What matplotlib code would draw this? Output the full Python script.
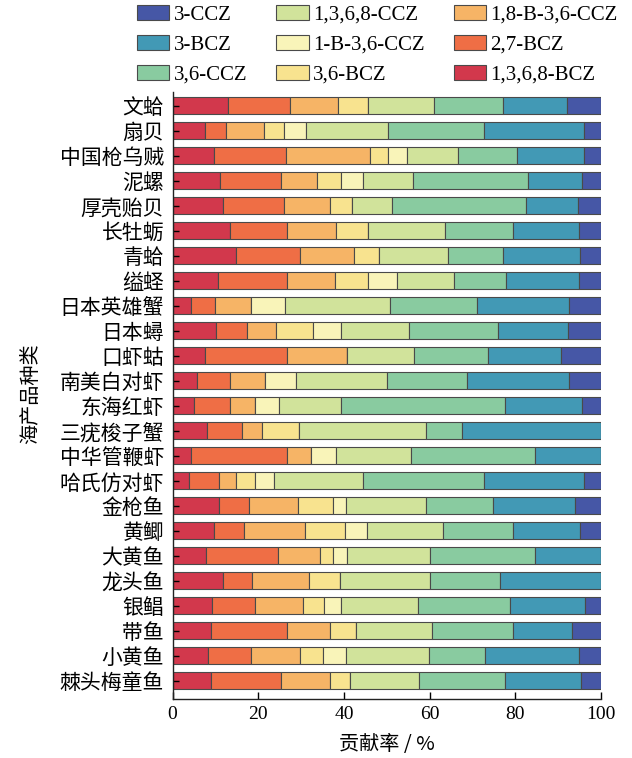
import matplotlib
matplotlib.use("Agg")
import matplotlib.pyplot as plt
import numpy as np

categories = ["文蛤", "扇贝", "中国枪乌贼", "泥螺", "厚壳贻贝", "长牡蛎", "青蛤", "缢蛏",
              "日本英雄蟹", "日本蟳", "口虾蛄", "南美白对虾", "东海红虾", "三疣梭子蟹",
              "中华管鞭虾", "哈氏仿对虾", "金枪鱼", "黄鲫", "大黄鱼", "龙头鱼", "银鲳",
              "带鱼", "小黄鱼", "棘头梅童鱼"]

series_names = ["1,3,6,8-BCZ", "2,7-BCZ", "1,8-B-3,6-CCZ", "3,6-BCZ", "1-B-3,6-CCZ",
                "1,3,6,8-CCZ", "3,6-CCZ", "3-BCZ", "3-CCZ"]

bcz_1368 = [13.0, 7.5, 9.6, 11.0, 11.8, 13.4, 14.7, 10.6, 4.4, 10.1, 7.6, 5.8, 5.1, 8.1,
            4.2, 3.9, 10.9, 9.6, 7.8, 11.7, 9.2, 8.9, 8.3, 9.0]
bcz_27 = [14.4, 4.9, 16.8, 14.4, 14.2, 13.2, 15.1, 16.2, 5.5, 7.2, 19.2, 7.6, 8.3, 8.1,
          22.4, 7.0, 7.0, 7.0, 16.7, 6.9, 10.0, 17.9, 10.1, 16.4]
b18_ccz36 = [11.1, 9.0, 19.6, 8.2, 10.8, 11.6, 12.5, 11.0, 8.5, 6.9, 13.8, 8.1, 5.9, 4.7,
             5.6, 4.0, 11.4, 14.4, 9.8, 13.3, 11.3, 9.9, 11.3, 11.4]
bcz_36 = [7.0, 4.6, 4.3, 5.6, 5.0, 7.4, 6.0, 7.7, 0.0, 8.6, 0.0, 0.0, 0.0, 8.6,
          0.0, 4.4, 8.2, 9.3, 3.2, 7.1, 4.9, 6.2, 5.5, 4.5]
b1_ccz36 = [0.0, 5.1, 4.4, 5.2, 0.0, 0.0, 0.0, 7.0, 7.9, 6.4, 0.0, 7.3, 5.5, 0.0,
            5.9, 4.3, 2.9, 5.1, 3.3, 0.0, 4.0, 0.0, 5.2, 0.0]
ccz_1368 = [15.5, 19.2, 12.0, 11.7, 9.5, 18.0, 16.0, 13.3, 24.4, 16.0, 15.7, 21.2, 14.4, 29.7,
            17.5, 20.8, 18.8, 17.8, 19.2, 21.1, 17.9, 17.7, 19.4, 16.2]
ccz_36 = [16.2, 22.4, 13.6, 26.8, 31.3, 15.8, 12.9, 12.1, 20.3, 20.7, 17.3, 18.8, 38.3, 8.4,
          29.1, 28.4, 15.5, 16.2, 24.6, 16.4, 21.5, 18.8, 13.2, 20.2]
bcz_3 = [14.9, 23.4, 15.7, 12.6, 12.1, 15.4, 17.8, 16.9, 21.5, 16.5, 17.1, 23.8, 18.1, 32.4,
         15.3, 23.2, 19.3, 15.8, 15.4, 23.5, 17.5, 13.8, 21.8, 17.7]
ccz_3 = [7.9, 3.9, 4.0, 4.5, 5.3, 5.2, 5.0, 5.2, 7.5, 7.6, 9.3, 7.4, 4.4, 0.0,
         0.0, 4.0, 6.0, 4.8, 0.0, 0.0, 3.7, 6.8, 5.2, 4.6]

colors = ["#d2384c", "#ef6e45", "#f6b466", "#f8e38f", "#f9f4b9",
          "#d1e39b", "#89cba0", "#4299b5", "#4657a6"]

data = [bcz_1368, bcz_27, b18_ccz36, bcz_36, b1_ccz36, ccz_1368, ccz_36, bcz_3, ccz_3]

plt.rcParams["font.family"] = ["Liberation Serif", "Noto Sans CJK SC", "DejaVu Sans"]
cjk = ["Noto Sans CJK SC", "DejaVu Sans"]

fig = plt.figure(figsize=(6.32, 7.58), dpi=100)
ax = fig.add_axes([0.273, 0.078, 0.678, 0.801])

y = np.arange(len(categories))
left = np.zeros(len(categories))
handles = []
for name, vals, c in zip(series_names, data, colors):
    v = np.array(vals)
    h = ax.barh(y, v, left=left, height=0.68, color=c, edgecolor="#4a4a4a",
                linewidth=0.8, label=name)
    handles.append(h)
    left += v

ax.set_xlim(0, 100)
ax.set_ylim(len(categories) - 0.28, -0.56)
ax.set_yticks(y)
ax.set_yticklabels(categories, fontsize=15, family=cjk)
ax.set_xticks([0, 20, 40, 60, 80, 100])
ax.tick_params(axis="x", direction="in", labelsize=14, length=5, width=1, pad=5)
ax.tick_params(axis="y", direction="in", length=4, width=1, pad=6)
for s in ["top", "right"]:
    ax.spines[s].set_visible(False)
for s in ["left", "bottom"]:
    ax.spines[s].set_linewidth(1.0)
    ax.spines[s].set_color("#222222")

ax.set_xlabel("贡献率 / %", fontsize=14.5, family=cjk, labelpad=8)
fig.text(0.048, 0.48, "海产品种类", rotation=90, fontsize=14.5, ha="center", va="center",
         family=cjk)

leg = fig.legend(handles[::-1], series_names[::-1], ncol=3, frameon=False,
                 loc="upper left", bbox_to_anchor=(0.197, 1.010), fontsize=15,
                 handlelength=1.55, handleheight=0.7, handletextpad=0.2,
                 columnspacing=1.4, labelspacing=0.5, borderaxespad=0.2)

fig.savefig("out.png", dpi=100)
